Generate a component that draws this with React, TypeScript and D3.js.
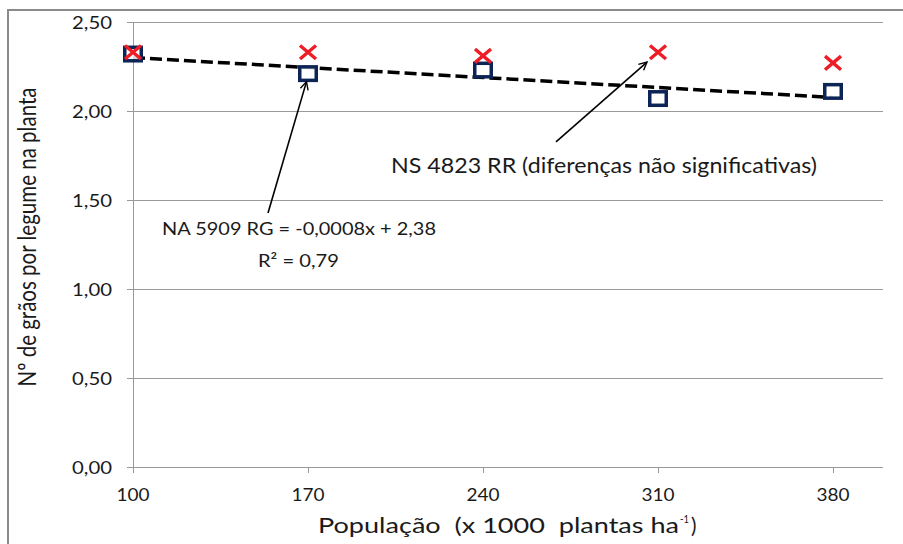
import React from "react";
import * as d3 from "d3";

const populations = [100, 170, 240, 310, 380];
const na5909 = [2.32, 2.21, 2.23, 2.07, 2.11];
const ns4823 = [2.33, 2.33, 2.31, 2.33, 2.27];
const yTicks = [0, 0.5, 1.0, 1.5, 2.0, 2.5];
const xTicks = [100, 170, 240, 310, 380];
const trendSlope = -0.0008;
const trendIntercept = 2.38;
const eqLabel = "NA 5909 RG = -0,0008x + 2,38";
const r2Label = "R² = 0,79";
const nsLabel = "NS 4823 RR (diferenças não significativas)";
const yTitle = "Nº de grãos por legume na planta";
const xTitleMain = "População  (x 1000  plantas ha";
const xTitleSup = "-1";

const W = 903;
const H = 544;
const FONT = "Lato, 'Liberation Sans', sans-serif";
const TXT = "#1a1a1a";

export default function App() {
  const x = d3.scaleLinear().domain([100, 400]).range([133, 883]);
  const y = d3.scaleLinear().domain([0, 2.5]).range([467, 22]);
  const fmt = (v: number) => v.toFixed(2).replace(".", ",");
  const trend = d3
    .line<number>()
    .x((d) => x(d))
    .y((d) => y(trendSlope * d + trendIntercept));
  const arrows = [
    { from: [154, 1.427], to: [169.4, 2.165] },
    { from: [269.2, 1.826], to: [305.6, 2.275] },
  ];
  const pre = { whiteSpace: "pre" } as React.CSSProperties;
  return (
    <svg
      width={W}
      height={H}
      style={{ position: "absolute", left: 0, top: 0, background: "#fff" }}
      fontFamily={FONT}
    >
      <defs>
        <marker id="ah" viewBox="0 0 10 10" refX="9" refY="5" markerWidth="10" markerHeight="10" orient="auto" markerUnits="userSpaceOnUse">
          <path d="M1,1 L9,5 L1,9" fill="none" stroke="#000" strokeWidth={1.4} />
        </marker>
      </defs>
      <rect x={8} y={10} width={900} height={540} fill="#fff" stroke="#8a8a8a" strokeWidth={2} />
      {yTicks.map((t) => (
        <line key={"g" + t} x1={127} x2={883} y1={Math.round(y(t)) + 0.5} y2={Math.round(y(t)) + 0.5} stroke="#9a9a9a" strokeWidth={1} />
      ))}
      <line x1={133.5} x2={133.5} y1={y(2.5)} y2={y(0)} stroke="#9a9a9a" strokeWidth={1} />
      {xTicks.map((t) => (
        <line key={"xt" + t} x1={Math.round(x(t)) + 0.5} x2={Math.round(x(t)) + 0.5} y1={y(0)} y2={y(0) + 6} stroke="#9a9a9a" strokeWidth={1} />
      ))}
      {yTicks.map((t) => (
        <text key={"yl" + t} x={112} y={y(t) + 6.5} textAnchor="end" fontSize={18} fill={TXT} textLength={40} lengthAdjust="spacingAndGlyphs">
          {fmt(t)}
        </text>
      ))}
      {xTicks.map((t) => (
        <text key={"xl" + t} x={x(t)} y={501} textAnchor="middle" fontSize={18} fill={TXT} textLength={33} lengthAdjust="spacingAndGlyphs">
          {t}
        </text>
      ))}
      <text transform={`translate(36,${237}) rotate(-90)`} textAnchor="middle" fontSize={25} fill={TXT} textLength={299} lengthAdjust="spacingAndGlyphs">
        {yTitle}
      </text>
      <text x={318} y={533} fontSize={20.5} fill={TXT} textLength={361} lengthAdjust="spacingAndGlyphs" style={pre}>
        {xTitleMain}
      </text>
      <text x={680} y={523} fontSize={12} fill={TXT} textLength={9} lengthAdjust="spacingAndGlyphs">{xTitleSup}</text>
      <text x={691} y={533} fontSize={20.5} fill={TXT}>)</text>
      <path d={trend([100, 380]) || ""} fill="none" stroke="#000" strokeWidth={3.5} strokeDasharray="12,5" />
      {populations.map((p, i) => (
        <rect key={"s" + i} x={x(p) - 8.25} y={y(na5909[i]) - 6.75} width={16.5} height={13.5} fill="#fff" fillOpacity={0.85} stroke="#0d2456" strokeWidth={3.5} />
      ))}
      {populations.map((p, i) => {
        const cx = x(p);
        const cy = y(ns4823[i]);
        const sx = 8;
        const sy = 6.8;
        return (
          <path key={"x" + i} d={`M${cx - sx},${cy - sy}L${cx + sx},${cy + sy}M${cx + sx},${cy - sy}L${cx - sx},${cy + sy}`} stroke="#ee1c25" strokeWidth={3.4} />
        );
      })}
      {arrows.map((a, i) => (
        <line key={"a" + i} x1={x(a.from[0])} y1={y(a.from[1])} x2={x(a.to[0])} y2={y(a.to[1])} stroke="#000" strokeWidth={1.6} markerEnd="url(#ah)" />
      ))}
      <text x={162} y={235} fontSize={18} fill={TXT} textLength={274} lengthAdjust="spacingAndGlyphs">{eqLabel}</text>
      <text x={258} y={267} fontSize={18} fill={TXT} textLength={81} lengthAdjust="spacingAndGlyphs">{r2Label}</text>
      <text x={391} y={173} fontSize={20.5} fill={TXT} textLength={426} lengthAdjust="spacingAndGlyphs">{nsLabel}</text>
    </svg>
  );
}
